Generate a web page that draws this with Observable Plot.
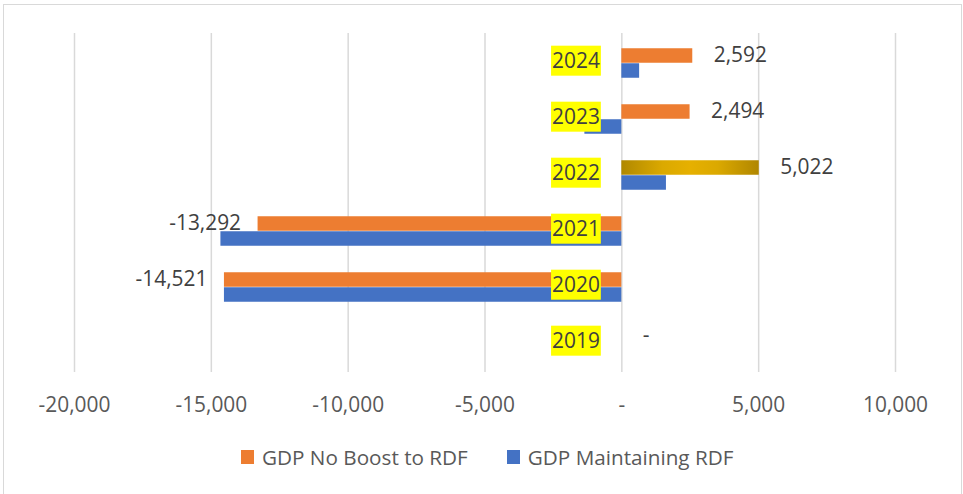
<!DOCTYPE html>
<html>
<head>
<meta charset="utf-8">
<script src="https://cdn.jsdelivr.net/npm/d3@7"></script>
<script src="https://cdn.jsdelivr.net/npm/@observablehq/plot@0.6"></script>
<style>
  html, body { margin: 0; padding: 0; background: #fff; overflow: hidden; }
  #wrap { position: relative; width: 963px; height: 494px; overflow: hidden; }
  #frame { position: absolute; left: 3px; top: 4px; width: 959px; height: 520px; border: 1.5px solid #d9d9d9; box-sizing: border-box; pointer-events: none; }
  #chart { position: absolute; left: 0; top: 0; }
  #legend { position: absolute; top: 443px; left: 241px; display: flex; align-items: center; color: #595959; white-space: nowrap; font-family: "Open Sans", sans-serif; }
  .item { display: flex; align-items: center; }
  .sw { width: 13px; height: 14px; margin-right: 8px; }
</style>
</head>
<body>
<div id="wrap">
  <div id="chart"></div>
  <div id="legend"></div>
  <div id="frame"></div>
</div>
<script>
// ---- data ----
const years = ["2019", "2020", "2021", "2022", "2023", "2024"];
const noBoost = [0, -14521, -13292, 5022, 2494, 2592];       // GDP No Boost to RDF
const maintaining = [0, -14521, -14650, 1630, -1350, 650];   // GDP Maintaining RDF
const seriesNames = ["GDP No Boost to RDF", "GDP Maintaining RDF"];
const seriesColors = ["#ED7D31", "#4472C4"];
const xTicks = [-20000, -15000, -10000, -5000, 0, 5000, 10000];
const highlightYear = "2022";

const fmt = v => v === 0 ? "-" : v.toLocaleString("en-US");

// ---- font sizing: match the reference text widths ----
const family = '"Open Sans", sans-serif';
const cv = document.createElement("canvas").getContext("2d");
function w(font, s) { cv.font = font; return cv.measureText(s).width; }
const fontSize = Math.round(72 / w(`100px ${family}`, "-20,000") * 100 * 10) / 10;
const legendSize = Math.round(206 / w(`100px ${family}`, seriesNames[0]) * 100 * 10) / 10;

const orangeRows = years.map((y, i) => ({year: y, value: noBoost[i]}));
const blueRows = years.map((y, i) => ({year: y, value: maintaining[i]}));

const W = 963, H = 430;
const band = (372 - 33) / years.length;   // band height
const half = 15;                           // bar thickness

const plot = Plot.plot({
  width: W,
  height: H,
  marginLeft: 74,
  marginRight: 68,
  marginTop: 33,
  marginBottom: H - 372,
  style: {fontFamily: family, fontSize: fontSize + "px", color: "#595959", background: "transparent"},
  x: {domain: [-20000, 10000], label: null},
  y: {domain: years.slice().reverse(), padding: 0, axis: null, label: null},
  marks: [
    Plot.gridX(xTicks, {stroke: "#d9d9d9", strokeOpacity: 1, strokeWidth: 1.5}),
    Plot.barX(orangeRows, {filter: d => d.year !== highlightYear, x: "value", y: "year", fill: seriesColors[0],
      insetTop: band / 2 - half, insetBottom: band / 2}),
    Plot.barX(orangeRows, {filter: d => d.year === highlightYear, x: "value", y: "year", fill: "url(#goldGrad)",
      insetTop: band / 2 - half, insetBottom: band / 2}),
    Plot.barX(blueRows, {x: "value", y: "year", fill: seriesColors[1],
      insetTop: band / 2, insetBottom: band / 2 - half}),
    Plot.axisX(xTicks, {tickSize: 0, tickPadding: 25, tickFormat: fmt, fontSize: fontSize, label: null}),
    Plot.text(years, {x: () => 0, y: d => d, text: d => d, dx: -22, dy: -2, textAnchor: "end",
      fill: "#404040", fontSize: fontSize}),
    Plot.text(orangeRows, {filter: d => d.value >= 0, x: "value", y: "year", text: d => fmt(d.value),
      dx: 21, dy: -half / 2 - 1, textAnchor: "start", fill: "#404040", fontSize: fontSize}),
    Plot.text(orangeRows, {filter: d => d.value < 0, x: "value", y: "year", text: d => fmt(d.value),
      dx: -17, dy: -half / 2 - 1, textAnchor: "end", fill: "#404040", fontSize: fontSize})
  ]
});

// gradient definition for the highlighted bar
const ns = "http://www.w3.org/2000/svg";
const defs = document.createElementNS(ns, "defs");
const grad = document.createElementNS(ns, "linearGradient");
grad.setAttribute("id", "goldGrad");
grad.setAttribute("x1", "0"); grad.setAttribute("x2", "1");
grad.setAttribute("y1", "0"); grad.setAttribute("y2", "0");
[[0, "#B08800"], [0.3, "#DBA900"], [0.5, "#E6B000"], [0.7, "#DBA900"], [1, "#B08600"]].forEach(([o, c]) => {
  const s = document.createElementNS(ns, "stop");
  s.setAttribute("offset", o); s.setAttribute("stop-color", c);
  grad.appendChild(s);
});
defs.appendChild(grad);
plot.insertBefore(defs, plot.firstChild);

document.getElementById("chart").appendChild(plot);

// yellow highlight behind the year labels (the text group whose labels are the years)
const yearSet = new Set(years);
plot.querySelectorAll('g[aria-label="text"]').forEach(g => {
  const texts = Array.from(g.querySelectorAll("text"));
  if (texts.length !== years.length || !texts.every(t => yearSet.has(t.textContent))) return;
  texts.forEach(t => {
    const b = t.getBBox();
    const hh = 30;
    const cy = b.y + b.height / 2 + 0.5;
    const r = document.createElementNS(ns, "rect");
    r.setAttribute("x", b.x - 1);
    r.setAttribute("y", cy - hh / 2);
    r.setAttribute("width", b.width + 2);
    r.setAttribute("height", hh);
    r.setAttribute("fill", "#FFFF00");
    const tr = t.getAttribute("transform");
    if (tr) r.setAttribute("transform", tr);
    g.insertBefore(r, t);
  });
});

// legend
const legend = document.getElementById("legend");
legend.style.fontSize = legendSize + "px";
seriesNames.forEach((name, i) => {
  const item = document.createElement("div");
  item.className = "item";
  if (i > 0) item.style.marginLeft = "39px";
  const sw = document.createElement("div");
  sw.className = "sw";
  sw.style.background = seriesColors[i];
  const lab = document.createElement("span");
  lab.textContent = name;
  item.appendChild(sw); item.appendChild(lab);
  legend.appendChild(item);
});
</script>
</body>
</html>
